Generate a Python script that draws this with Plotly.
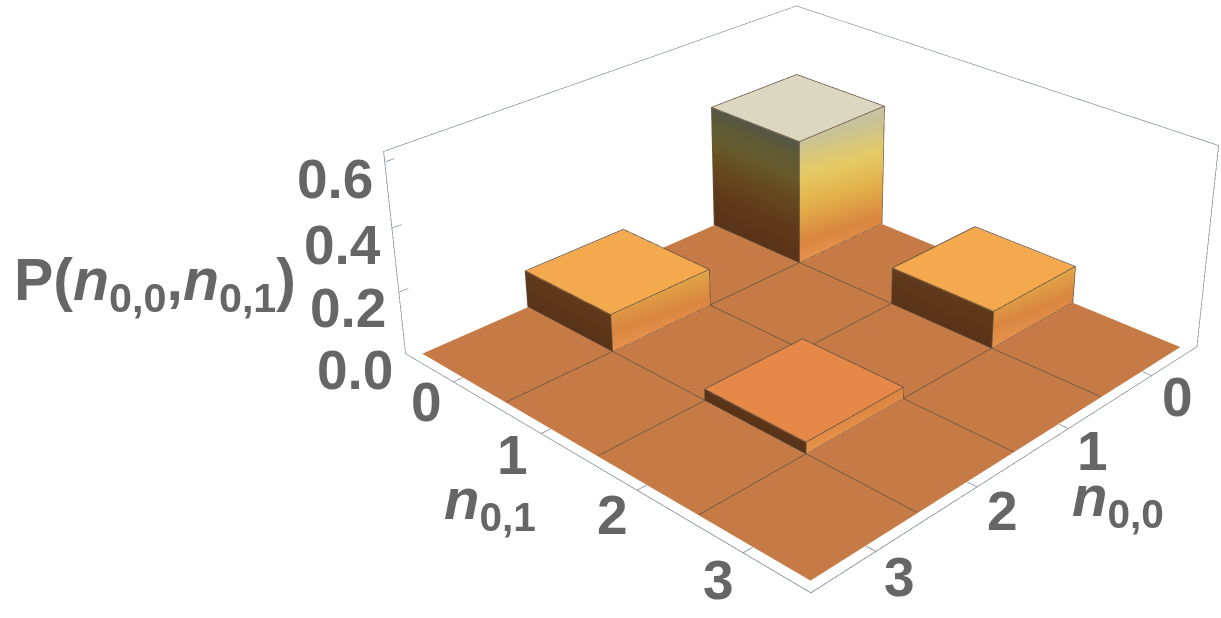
import numpy as np
import plotly.graph_objects as go

# Joint occupation probabilities, rows are n_{0,0}, columns are n_{0,1}
occupations = [0, 1, 2, 3]
probabilities = [
    [0.41, 0.00, 0.12, 0.00],
    [0.00, 0.00, 0.00, 0.00],
    [0.12, 0.00, 0.036, 0.00],
    [0.00, 0.00, 0.00, 0.00],
]
z_ticks = [0.0, 0.2, 0.4, 0.6]
z_tick_labels = ["0.0", "0.2", "0.4", "0.6"]

X_RANGE = [-0.59, 3.59]
Y_RANGE = [-0.59, 3.59]
Z_RANGE = [0.0, 0.6314]

TOP_COLORS = {0.0: "#C67B46", 0.036: "#E68848", 0.12: "#F5A94E", 0.41: "#DBD7C0"}
FRAME = "#7F8992"
EDGE = "#6B5440"
INK = "#666666"

# Scene proportions and viewpoint
ASPECT = np.array([1.0, 1.0, 0.3945])
EYE = np.array([2.1395, 2.0665, 1.5212])

# Shading of the two visible side faces as a function of height
DARK_STOPS = [(0.0, "#5A3419"), (0.10, "#5F391B"), (0.21, "#67491F"),
              (0.29, "#665A2C"), (0.36, "#5F5A36"), (0.41, "#56564A")]
BRIGHT_STOPS = [(0.0, "#E89550"), (0.07, "#DA8640"), (0.19, "#E3B04A"),
                (0.30, "#E6CB66"), (0.36, "#D8C77E"), (0.42, "#C6C29A"), (0.46, "#C8C5A8")]


def shade(stops, z):
    zs = [s[0] for s in stops]
    rgb = [[int(s[1][i:i + 2], 16) for i in (1, 3, 5)] for s in stops]
    vals = [np.interp(z, zs, [c[k] for c in rgb]) for k in range(3)]
    return "rgb(%d,%d,%d)" % tuple(vals)


vx, vy, vz, vc, fi, fj, fk = [], [], [], [], [], [], []


def add_vertex(x, y, z, color):
    vx.append(x); vy.append(y); vz.append(z); vc.append(color)
    return len(vx) - 1


def add_quad(a, b, c, d):
    fi.extend([a, a]); fj.extend([b, c]); fk.extend([c, d])


def add_side(p0, p1, height, stops, slant):
    levels = np.linspace(0, height, max(2, int(height / 0.008) + 1))
    steps = np.linspace(0, 1, 5)
    index = {}
    for a, z in enumerate(levels):
        for b, s in enumerate(steps):
            x = p0[0] + (p1[0] - p0[0]) * s
            y = p0[1] + (p1[1] - p0[1]) * s
            index[a, b] = add_vertex(x, y, z, shade(stops, z + slant * s))
    for a in range(len(levels) - 1):
        for b in range(len(steps) - 1):
            add_quad(index[a, b], index[a, b + 1], index[a + 1, b + 1], index[a + 1, b])


edge_x, edge_y, edge_z = [], [], []


def add_edge(pts):
    for p in pts:
        edge_x.append(p[0]); edge_y.append(p[1]); edge_z.append(p[2])
    edge_x.append(None); edge_y.append(None); edge_z.append(None)


LIFT = 0.002
for row, n00 in enumerate(occupations):
    for col, n01 in enumerate(occupations):
        h = probabilities[row][col]
        x0, x1, y0, y1 = n00 - 0.5, n00 + 0.5, n01 - 0.5, n01 + 0.5
        top = TOP_COLORS[h]
        add_quad(add_vertex(x0, y0, h, top), add_vertex(x1, y0, h, top),
                 add_vertex(x1, y1, h, top), add_vertex(x0, y1, h, top))
        if h > 0:
            t = h + LIFT
            add_edge([(x0, y0, t), (x1, y0, t), (x1, y1, t), (x0, y1, t), (x0, y0, t)])
            add_side((x1, y0), (x1, y1), h, DARK_STOPS, 0.0)
            add_side((x1, y1), (x0, y1), h, BRIGHT_STOPS, 0.045)
            add_edge([(x1 + 0.002, y1 + 0.002, 0), (x1 + 0.002, y1 + 0.002, t)])
            add_edge([(x1 + 0.002, y0, 0), (x1 + 0.002, y0, t)])
            add_edge([(x0, y1 + 0.002, 0), (x0, y1 + 0.002, t)])

# Cell boundaries on the floor, without an outline round it
lo, hi = occupations[0] - 0.5, occupations[-1] + 0.5
for v in occupations[:-1]:
    add_edge([(v + 0.5, lo, LIFT), (v + 0.5, hi, LIFT)])
    add_edge([(lo, v + 0.5, LIFT), (hi, v + 0.5, LIFT)])

# Bounding frame and tick marks: flat ribbons turned towards the viewer,
# which keep an even thickness along the long edges
span = np.array([X_RANGE[1] - X_RANGE[0], Y_RANGE[1] - Y_RANGE[0], Z_RANGE[1] - Z_RANGE[0]])
mid = np.array([sum(X_RANGE) / 2, sum(Y_RANGE) / 2, sum(Z_RANGE) / 2])
to_scene = ASPECT / span
RIBBON = 0.0012  # half thickness in scene units


def add_frame(a, b):
    a, b = np.array(a, float), np.array(b, float)
    sa, sb = (a - mid) * to_scene, (b - mid) * to_scene
    side = np.cross(sb - sa, (sa + sb) / 2 - EYE)
    offset = side / np.linalg.norm(side) * RIBBON / to_scene
    corners = [a + offset, b + offset, b - offset, a - offset]
    add_quad(*[add_vertex(c[0], c[1], c[2], FRAME) for c in corners])


xa, xb = X_RANGE; ya, yb = Y_RANGE; za, zb = Z_RANGE
for z in (za, zb):
    add_frame((xa, ya, z), (xb, ya, z)); add_frame((xb, ya, z), (xb, yb, z))
    add_frame((xb, yb, z), (xa, yb, z)); add_frame((xa, yb, z), (xa, ya, z))
for x in (xa, xb):
    for y in (ya, yb):
        add_frame((x, y, za), (x, y, zb))
TICK = 0.085
for v in occupations:
    add_frame((xb, v, 0), (xb - TICK, v, 0))
    add_frame((v, yb, 0), (v, yb - TICK, 0))
for z in z_ticks:
    add_frame((xb, ya, z), (xb - TICK, ya, z))

bars = go.Mesh3d(x=vx, y=vy, z=vz, i=fi, j=fj, k=fk, vertexcolor=vc, flatshading=False,
                 lighting=dict(ambient=1, diffuse=0, specular=0, roughness=1, fresnel=0),
                 hoverinfo="skip", showscale=False)
edges = go.Scatter3d(x=edge_x, y=edge_y, z=edge_z, mode="lines",
                     line=dict(color=EDGE, width=1.6), hoverinfo="skip", showlegend=False)

fig = go.Figure([bars, edges])

# The scene is sized so that its fixed 45 degree lens gives a long focal length;
# the part outside the window is scrolled away.
SCENE_W, SCENE_H = 1605, 1592
TOP_OFFSET = 544


def label(text, px, py, size=55):
    return dict(text="<b>%s</b>" % text, x=px / SCENE_W, y=1 - (py + TOP_OFFSET) / SCENE_H,
                xref="paper", yref="paper", showarrow=False, xanchor="center", yanchor="middle",
                font=dict(family="Liberation Sans", size=size, color=INK))


anns = []
for t, px, py in zip(z_tick_labels, [355, 348, 342, 335], [370, 308, 245, 179]):
    anns.append(label(t, px, py))
for v, px, py in zip(occupations, [426, 512, 612, 718], [402, 455, 515, 580]):
    anns.append(label(str(v), px, py))
for v, px, py in zip(occupations, [1177, 1092, 1002, 900], [397, 451, 511, 577]):
    anns.append(label(str(v), px, py))
anns.append(label("<i>n</i><sub>0,1</sub>", 490, 503, 58))
anns.append(label("<i>n</i><sub>0,0</sub>", 1118, 500, 58))
anns.append(label("P(<i>n</i><sub>0,0</sub>,<i>n</i><sub>0,1</sub>)", 155, 284, 59))

hidden = dict(visible=False, showspikes=False)
fig.update_layout(
    width=SCENE_W, height=SCENE_H, autosize=False, margin=dict(l=0, r=0, t=0, b=0),
    paper_bgcolor="white", showlegend=False, annotations=anns,
    scene=dict(
        domain=dict(x=[0, 1], y=[0, 1]),
        xaxis=dict(range=X_RANGE, **hidden),
        yaxis=dict(range=Y_RANGE, **hidden),
        zaxis=dict(range=Z_RANGE, **hidden),
        aspectmode="manual", aspectratio=dict(x=ASPECT[0], y=ASPECT[1], z=ASPECT[2]),
        camera=dict(projection=dict(type="perspective"),
                    eye=dict(x=EYE[0], y=EYE[1], z=EYE[2]),
                    center=dict(x=0, y=0, z=0),
                    up=dict(x=0, y=0, z=1)),
    ),
)
shift = ("var g=document.getElementById('{plot_id}');g.style.marginTop='-%dpx';"
         "document.documentElement.style.overflow='hidden';"
         "document.body.style.overflow='hidden';" % TOP_OFFSET)
fig.write_html("out.html", config={"displayModeBar": False}, post_script=shift,
               default_width="%dpx" % SCENE_W, default_height="%dpx" % SCENE_H)
